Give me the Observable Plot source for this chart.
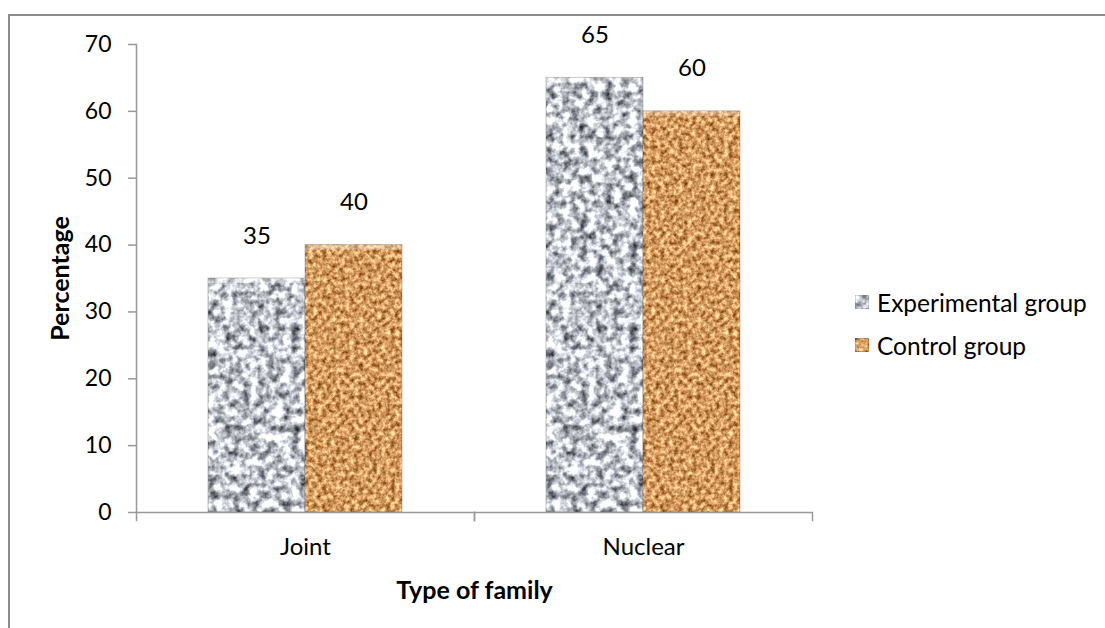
<!DOCTYPE html>
<html><head><meta charset="utf-8">
<script src="https://cdn.jsdelivr.net/npm/d3@7"></script>
<script src="https://cdn.jsdelivr.net/npm/@observablehq/plot@0.6"></script>
<style>
body{margin:0;background:#fff;}
#wrap{position:relative;width:1105px;height:628px;overflow:hidden;font-family:Lato,sans-serif;background:#fff;}
#border{position:absolute;left:8px;top:14px;width:1200px;height:700px;border-top:2px solid #8c8c8c;border-left:2px solid #8c8c8c;}
#chart{position:absolute;left:0;top:0;}
#legend{position:absolute;left:855px;top:289px;font-size:24.5px;color:#000;}
#legend .row{display:flex;align-items:center;height:26px;margin-bottom:17px;}
#legend svg{margin-right:8px;}
</style></head><body>
<div id="wrap"><div id="border"></div><div id="chart"></div><div id="legend"></div></div>
<script>
const families = ["Joint", "Nuclear"];
const groups = ["Experimental group", "Control group"];
const experimental = [35, 65];
const control = [40, 60];
const yTicks = [0, 10, 20, 30, 40, 50, 60, 70];
const textures = ["url(#texGray)", "url(#texBrown)"];

const data = families.flatMap((f, i) => [
  {family: f, group: groups[0], value: experimental[i]},
  {family: f, group: groups[1], value: control[i]}
]);

const axisColor = "#999";

const chart = Plot.plot({
  width: 1105, height: 628,
  marginLeft: 136, marginRight: 293, marginTop: 44, marginBottom: 116,
  style: {fontFamily: "Lato, sans-serif", fontSize: "22px", color: "#000", background: "transparent", overflow: "visible"},
  fx: {domain: families, padding: 0},
  x: {domain: groups, paddingInner: 0, paddingOuter: 0.742, axis: null},
  y: {domain: [0, 70]},
  color: {domain: groups, range: textures},
  marks: [
    Plot.axisY({ticks: yTicks, tickSize: 8, tickPadding: 17, stroke: axisColor, strokeWidth: 1.5, fontSize: 23,
      label: "Percentage", labelArrow: "none", labelAnchor: "center", labelOffset: 85}),
    Plot.axisFx({anchor: "bottom", tickSize: 0, tickPadding: 25, fontSize: 24,
      label: "Type of family", labelAnchor: "center", labelOffset: 86}),
    Plot.barY(data, {fx: "family", x: "group", y: "value", fill: "group", stroke: "rgba(70,60,50,0.3)", strokeWidth: 1}),
    Plot.barY(data, {fx: "family", x: "group", y1: "value", y2: "value", insetBottom: -5, fill: "white", fillOpacity: 0.3}),
    Plot.ruleY([0], {stroke: axisColor, strokeWidth: 1.5}),
    Plot.frame({anchor: "left", facetAnchor: "left", stroke: axisColor, strokeWidth: 1.5}),
    Plot.frame({anchor: "left", insetTop: 468, insetBottom: -8, stroke: axisColor, strokeWidth: 1.5}),
    Plot.frame({anchor: "right", insetTop: 468, insetBottom: -8, stroke: axisColor, strokeWidth: 1.5}),
    Plot.text(data, {fx: "family", x: "group", y: "value", text: d => String(d.value), dy: -35, lineAnchor: "bottom", fontSize: 24})
  ]
});

const defsMarkup = `
<filter id="fGray" x="0" y="0" width="1" height="1" color-interpolation-filters="sRGB">
  <feTurbulence type="fractalNoise" baseFrequency="0.12" numOctaves="3" seed="4" result="n"/>
  <feColorMatrix in="n" type="matrix" values="1.6 0 0 0 -0.04  1.6 0 0 0 -0.03  1.6 0 0 0 0.0  0 0 0 0 1"/>
</filter>
<filter id="fBrown" x="0" y="0" width="1" height="1" color-interpolation-filters="sRGB">
  <feTurbulence type="fractalNoise" baseFrequency="0.22" numOctaves="3" seed="9" result="n"/>
  <feColorMatrix in="n" type="matrix" values="1.0 0 0 0 0.33  1.05 0 0 0 0.08  1.0 0 0 0 -0.13  0 0 0 0 1"/>
</filter>
<pattern id="texGray" patternUnits="userSpaceOnUse" x="0" y="0" width="1105" height="628">
  <rect width="1105" height="628" filter="url(#fGray)"/>
</pattern>
<pattern id="texBrown" patternUnits="userSpaceOnUse" x="0" y="0" width="1105" height="628">
  <rect width="1105" height="628" filter="url(#fBrown)"/>
</pattern>`;
const svg = d3.select(chart);
svg.insert("defs", ":first-child").html(defsMarkup);
svg.selectAll('[aria-label="y-axis label"], [aria-label="fx-axis label"]')
  .attr("font-weight", "bold").attr("font-size", 25);
svg.selectAll('[aria-label="y-axis label"] text').each(function () {
  this.textContent = this.textContent.replace(/\s*[↑→]\s*/g, "");
});

document.getElementById("chart").appendChild(chart);

const legend = d3.select("#legend");
groups.forEach((g, i) => {
  const row = legend.append("div").attr("class", "row");
  const s = row.append("svg").attr("width", 14).attr("height", 14);
  s.append("rect").attr("width", 14).attr("height", 14).attr("fill", textures[i]).attr("stroke", "rgba(70,60,50,0.4)");
  row.append("span").text(g);
});
</script>
</body></html>
